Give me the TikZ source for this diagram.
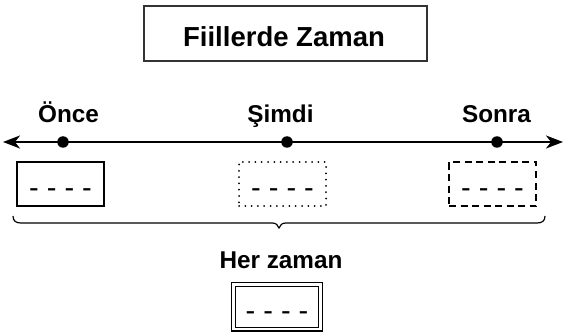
\documentclass[tikz,border=0pt]{standalone}
\usepackage{fontspec}
\setmainfont{Liberation Sans}
\usetikzlibrary{arrows.meta}
\begin{document}
\begin{tikzpicture}[x=1pt,y=-1pt,
 lbl/.style={font=\fontsize{24.3}{28}\selectfont\bfseries, anchor=base, inner sep=0},
 dot/.style={circle, fill=black, inner sep=0, minimum size=11.5pt},
 slot/.style={draw, minimum width=87pt, minimum height=44pt, inner sep=0, line width=1.2pt},
 blanks/.style={font=\fontsize{29}{30}\selectfont, anchor=base, inner sep=0},
 timeline/.style={line width=2pt, {Stealth[length=17pt,width=13pt,inset=5pt]}-{Stealth[length=17pt,width=13pt,inset=5pt]}},
]
\useasboundingbox (0,0) rectangle (565,334);
% title
\node[draw=black!80, line width=1.5pt, minimum width=283pt, minimum height=55pt, inner sep=0] (titlebox) at (285.5,33.5) {};
\node[font=\fontsize{27.5}{30}\selectfont\bfseries, anchor=base, inner sep=0] (title) at (284,47) {Fiillerde Zaman};
% timeline
\coordinate (L) at (3,142);
\coordinate (R) at (563,142);
\draw[timeline] (L) -- (R);
\node[dot] (d1) at (63,142) {};
\node[dot] (d2) at (287,142) {};
\node[dot] (d3) at (497,142) {};
\node[lbl] (l1) at (68.5,123) {Önce};
\node[lbl] (l2) at (280.5,123) {Şimdi};
\node[lbl] (l3) at (496.5,123) {Sonra};
% slots
\node[slot] (b1) at (60.5,184) {};
\node[slot, line width=2pt, line cap=round, dash pattern=on 0pt off 6.3pt] (b2) at (282.5,184) {};
\node[slot, line width=1.5pt, dash pattern=on 7pt off 4.5pt] (b3) at (492.5,184) {};
\node[blanks] (t1) at (60.5,197.5) {- - - -};
\node[blanks] (t2) at (282.5,197.5) {- - - -};
\node[blanks] (t3) at (492.5,197.5) {- - - -};
% brace
\draw[line width=1.2pt] (13,216) .. controls (13,221) and (16,223) .. (21,223) -- (272,223) .. controls (276,223) and (278,225) .. (279,228) .. controls (280,225) and (282,223) .. (286,223) -- (537,223) .. controls (542,223) and (545,221) .. (545,216);
% always
\node[lbl] (l4) at (281,268) {Her zaman};
\node[slot, line width=1.3pt, double, double distance=2.4pt, minimum height=44.5pt] (b4) at (277,306.75) {};
\node[blanks] (t4) at (277,320.5) {- - - -};
\end{tikzpicture}
\end{document}
